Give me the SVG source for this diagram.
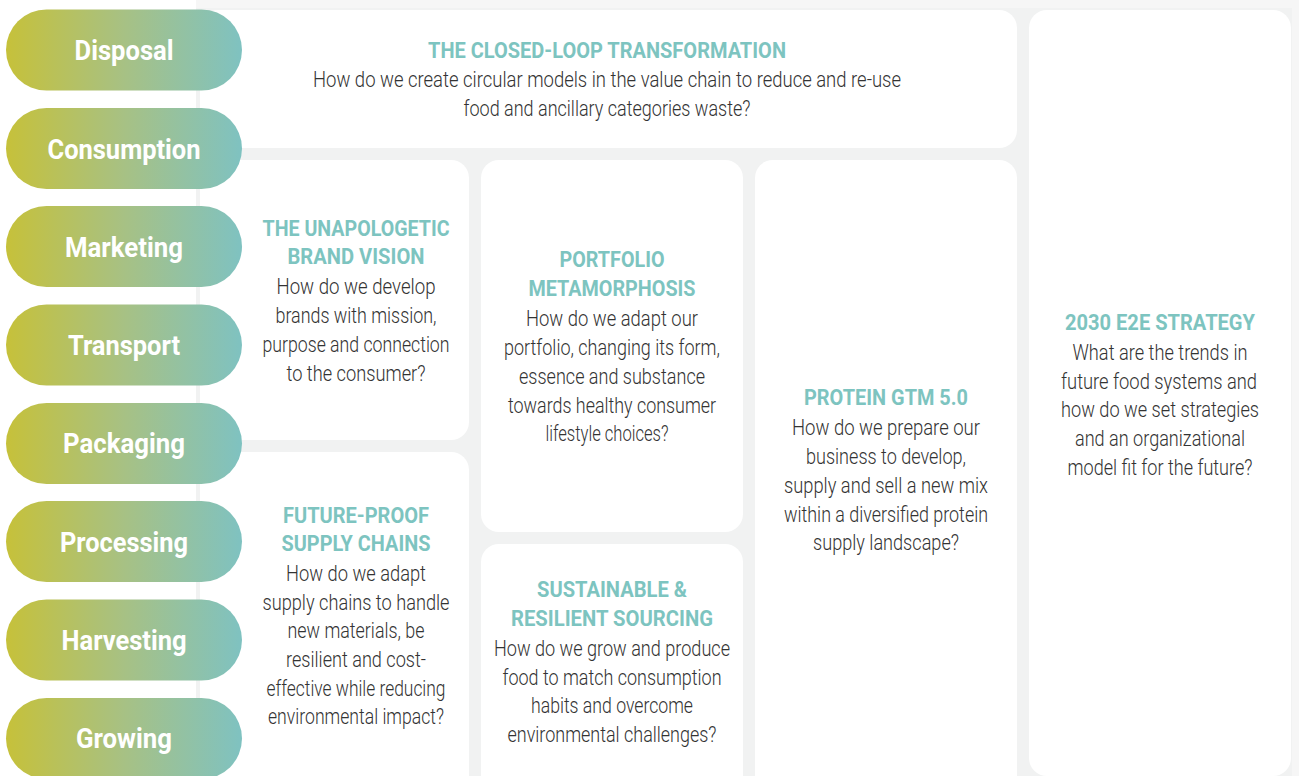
<svg xmlns="http://www.w3.org/2000/svg" width="1299" height="776" viewBox="0 0 1299 776">
<defs>
<linearGradient id="pillGrad" x1="0" y1="0" x2="1" y2="0">
<stop offset="0" stop-color="#c6c13a"/>
<stop offset="0.5" stop-color="#a7c184"/>
<stop offset="1" stop-color="#7fc2c1"/>
</linearGradient>
<style>
.card{fill:#ffffff;}
.pill{fill:url(#pillGrad);}
.pt{font-family:Roboto,"Liberation Sans",sans-serif;font-weight:bold;font-size:28.5px;fill:#ffffff;text-anchor:middle;}
.tt{font-family:Roboto,"Liberation Sans",sans-serif;font-weight:bold;font-size:22.5px;fill:#7dc4c0;text-anchor:middle;}
.bt{font-family:Roboto,"Liberation Sans",sans-serif;font-weight:300;font-size:22px;fill:#333333;text-anchor:middle;}
</style>
</defs>
<rect x="0" y="0" width="1299" height="776" fill="#ffffff"/>
<rect x="196" y="0" width="1103" height="776" fill="#f1f2f2"/>
<rect x="196" y="0" width="1103" height="8" fill="#f6f6f6"/>
<rect x="1292" y="0" width="7" height="776" fill="#f6f6f6"/>

<g id="card-closed-loop">
<rect class="card" x="200" y="10" width="817" height="138" rx="18"/>
<text class="tt" x="607" y="58" textLength="358" lengthAdjust="spacingAndGlyphs">THE CLOSED-LOOP TRANSFORMATION</text>
<text class="bt" x="607" y="87" textLength="588" lengthAdjust="spacingAndGlyphs">How do we create circular models in the value chain to reduce and re-use</text>
<text class="bt" x="607" y="116" textLength="287" lengthAdjust="spacingAndGlyphs">food and ancillary categories waste?</text>
</g>

<g id="card-unapologetic">
<rect class="card" x="200" y="160" width="269" height="280" rx="18"/>
<text class="tt" x="356" y="236" textLength="187" lengthAdjust="spacingAndGlyphs">THE UNAPOLOGETIC</text>
<text class="tt" x="356" y="264" textLength="137" lengthAdjust="spacingAndGlyphs">BRAND VISION</text>
<text class="bt" x="356" y="294" textLength="159" lengthAdjust="spacingAndGlyphs">How do we develop</text>
<text class="bt" x="356" y="323" textLength="161" lengthAdjust="spacingAndGlyphs">brands with mission,</text>
<text class="bt" x="356" y="352" textLength="187" lengthAdjust="spacingAndGlyphs">purpose and connection</text>
<text class="bt" x="356" y="381" textLength="139" lengthAdjust="spacingAndGlyphs">to the consumer?</text>
</g>

<g id="card-future-proof">
<rect class="card" x="200" y="452" width="269" height="340" rx="18"/>
<text class="tt" x="356" y="523" textLength="146" lengthAdjust="spacingAndGlyphs">FUTURE-PROOF</text>
<text class="tt" x="356" y="551" textLength="149" lengthAdjust="spacingAndGlyphs">SUPPLY CHAINS</text>
<text class="bt" x="356" y="581" textLength="140" lengthAdjust="spacingAndGlyphs">How do we adapt</text>
<text class="bt" x="356" y="610" textLength="187" lengthAdjust="spacingAndGlyphs">supply chains to handle</text>
<text class="bt" x="356" y="638" textLength="137" lengthAdjust="spacingAndGlyphs">new materials, be</text>
<text class="bt" x="356" y="667" textLength="140" lengthAdjust="spacingAndGlyphs">resilient and cost-</text>
<text class="bt" x="356" y="696" textLength="179" lengthAdjust="spacingAndGlyphs">effective while reducing</text>
<text class="bt" x="356" y="724" textLength="176" lengthAdjust="spacingAndGlyphs">environmental impact?</text>
</g>

<g id="card-portfolio">
<rect class="card" x="481" y="160" width="262" height="372" rx="18"/>
<text class="tt" x="612" y="267" textLength="105" lengthAdjust="spacingAndGlyphs">PORTFOLIO</text>
<text class="tt" x="612" y="296" textLength="167" lengthAdjust="spacingAndGlyphs">METAMORPHOSIS</text>
<text class="bt" x="612" y="326" textLength="172" lengthAdjust="spacingAndGlyphs">How do we adapt our</text>
<text class="bt" x="612" y="355" textLength="216" lengthAdjust="spacingAndGlyphs">portfolio, changing its form,</text>
<text class="bt" x="612" y="384" textLength="186" lengthAdjust="spacingAndGlyphs">essence and substance</text>
<text class="bt" x="612" y="413" textLength="208" lengthAdjust="spacingAndGlyphs">towards healthy consumer</text>
<text class="bt" x="607" y="441" textLength="123" lengthAdjust="spacingAndGlyphs">lifestyle choices?</text>
</g>

<g id="card-sustainable">
<rect class="card" x="481" y="544" width="262" height="250" rx="18"/>
<text class="tt" x="612" y="597" textLength="150" lengthAdjust="spacingAndGlyphs">SUSTAINABLE &amp;</text>
<text class="tt" x="612" y="626" textLength="202" lengthAdjust="spacingAndGlyphs">RESILIENT SOURCING</text>
<text class="bt" x="612" y="656" textLength="236" lengthAdjust="spacingAndGlyphs">How do we grow and produce</text>
<text class="bt" x="612" y="685" textLength="219" lengthAdjust="spacingAndGlyphs">food to match consumption</text>
<text class="bt" x="612" y="713" textLength="162" lengthAdjust="spacingAndGlyphs">habits and overcome</text>
<text class="bt" x="612" y="742" textLength="209" lengthAdjust="spacingAndGlyphs">environmental challenges?</text>
</g>

<g id="card-protein">
<rect class="card" x="755" y="160" width="262" height="634" rx="18"/>
<text class="tt" x="886" y="405" textLength="164" lengthAdjust="spacingAndGlyphs">PROTEIN GTM 5.0</text>
<text class="bt" x="886" y="435" textLength="188" lengthAdjust="spacingAndGlyphs">How do we prepare our</text>
<text class="bt" x="886" y="464" textLength="160" lengthAdjust="spacingAndGlyphs">business to develop,</text>
<text class="bt" x="886" y="493" textLength="204" lengthAdjust="spacingAndGlyphs">supply and sell a new mix</text>
<text class="bt" x="886" y="522" textLength="204" lengthAdjust="spacingAndGlyphs">within a diversified protein</text>
<text class="bt" x="886" y="550" textLength="146" lengthAdjust="spacingAndGlyphs">supply landscape?</text>
</g>

<g id="card-2030">
<rect class="card" x="1029" y="10" width="262" height="766" rx="18"/>
<text class="tt" x="1160" y="330" textLength="190" lengthAdjust="spacingAndGlyphs">2030 E2E STRATEGY</text>
<text class="bt" x="1160" y="360" textLength="175" lengthAdjust="spacingAndGlyphs">What are the trends in</text>
<text class="bt" x="1159" y="389" textLength="196" lengthAdjust="spacingAndGlyphs">future food systems and</text>
<text class="bt" x="1160" y="417" textLength="198" lengthAdjust="spacingAndGlyphs">how do we set strategies</text>
<text class="bt" x="1160" y="446" textLength="170" lengthAdjust="spacingAndGlyphs">and an organizational</text>
<text class="bt" x="1160" y="475" textLength="185" lengthAdjust="spacingAndGlyphs">model fit for the future?</text>
</g>

<g id="pill-disposal">
<rect class="pill" x="6" y="9.5" width="236" height="81" rx="40.5"/>
<text class="pt" x="124" y="60" textLength="99" lengthAdjust="spacingAndGlyphs">Disposal</text>
</g>
<g id="pill-consumption">
<rect class="pill" x="6" y="108" width="236" height="81" rx="40.5"/>
<text class="pt" x="124" y="159" textLength="153" lengthAdjust="spacingAndGlyphs">Consumption</text>
</g>
<g id="pill-marketing">
<rect class="pill" x="6" y="206" width="236" height="81" rx="40.5"/>
<text class="pt" x="124" y="257" textLength="118" lengthAdjust="spacingAndGlyphs">Marketing</text>
</g>
<g id="pill-transport">
<rect class="pill" x="6" y="304.5" width="236" height="81" rx="40.5"/>
<text class="pt" x="124" y="355" textLength="112" lengthAdjust="spacingAndGlyphs">Transport</text>
</g>
<g id="pill-packaging">
<rect class="pill" x="6" y="403" width="236" height="81" rx="40.5"/>
<text class="pt" x="124" y="453" textLength="122" lengthAdjust="spacingAndGlyphs">Packaging</text>
</g>
<g id="pill-processing">
<rect class="pill" x="6" y="501" width="236" height="81" rx="40.5"/>
<text class="pt" x="124" y="552" textLength="128" lengthAdjust="spacingAndGlyphs">Processing</text>
</g>
<g id="pill-harvesting">
<rect class="pill" x="6" y="599.5" width="236" height="81" rx="40.5"/>
<text class="pt" x="124" y="650" textLength="125" lengthAdjust="spacingAndGlyphs">Harvesting</text>
</g>
<g id="pill-growing">
<rect class="pill" x="6" y="698" width="236" height="81" rx="40.5"/>
<text class="pt" x="124" y="748" textLength="96" lengthAdjust="spacingAndGlyphs">Growing</text>
</g>
<g id="connectors"></g>
</svg>
